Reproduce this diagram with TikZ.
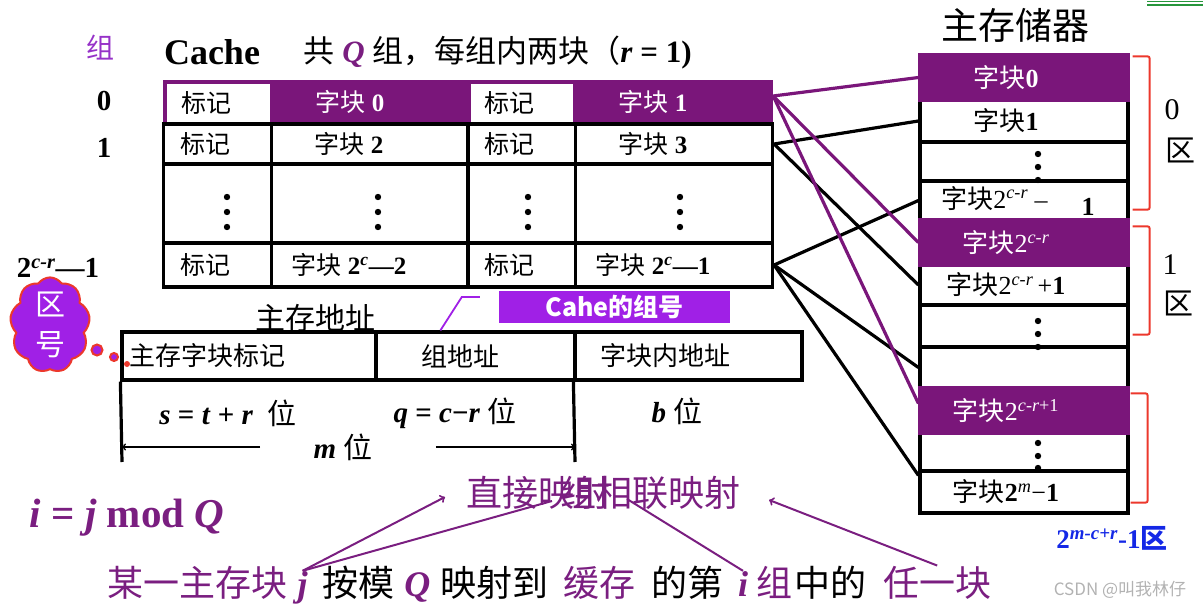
\documentclass[tikz,border=0pt]{standalone}
\usepackage{fontspec}
\setmainfont{Liberation Serif}
\newfontfamily\cjk{Noto Sans CJK SC}
\newcommand{\zh}[1]{{\cjk #1}}
\newcommand{\fs}[1]{\fontsize{#1}{#1}\selectfont}
\usetikzlibrary{positioning,shapes.symbols}
\definecolor{bandpurple}{RGB}{122,22,122}
\definecolor{txtpurple}{RGB}{122,30,128}
\definecolor{brightpurple}{RGB}{160,32,230}
\definecolor{zpurple}{RGB}{150,50,200}
\definecolor{brkred}{RGB}{236,56,44}
\definecolor{zoneblue}{RGB}{20,40,230}
\definecolor{topgreen}{RGB}{40,150,60}

\begin{document}
\begin{tikzpicture}[x=1pt,y=-1pt,
    cell/.style={draw,line width=3.2pt,inner sep=0pt,font=\fs{25}},
    tagc/.style={cell,minimum width=108pt,execute at end node=\hspace*{24pt}},
    blkc/.style={cell,minimum width=197pt,execute at end node=\hspace*{42pt}},
    tagw/.style={fill=white,inner sep=0pt,font=\fs{25},minimum height=38pt,execute at end node=\hspace*{24pt}},
    blk/.style={cell,minimum width=208pt,font=\fs{26},execute at end node=\hspace*{36pt}},
    blkp/.style={blk,fill=bandpurple,draw=bandpurple,text=white},
    link/.style={line width=3.2pt},
    plink/.style={link,draw=bandpurple},
    arr/.style={line width=2pt,draw=txtpurple,->},
    brk/.style={draw=brkred,line width=2pt,rounded corners=2pt}]
    \useasboundingbox (0,0) rectangle (1203,610);
    % title and group numbers
    \node[font=\bfseries\fs{36}] (cache) at (212,52) {Cache};
    \node[font=\fs{31},anchor=west] (ttl) at (300,53) {\zh{共} \textcolor{txtpurple}{\textbf{\textit{Q}}} \zh{组，每组内两块（}\textbf{\textit{r} = 1)}};
    \node[font=\cjk\fs{28},text=zpurple] (gz) at (100,48) {组};
    \node[font=\bfseries\fs{29}] (g0) at (104,101) {0};
    \node[font=\bfseries\fs{29}] (g1) at (104,148) {1};
    \node[font=\bfseries\fs{29}] (gn) at (58,268) {2\textsuperscript{\textit{c-r}}—1};
    % cache table
    \node[fill=bandpurple,minimum width=610pt,minimum height=44pt,inner sep=0pt] (c0) at (468,102) {};
    \node[tagw,minimum width=103pt] (t0a) at (218.5,103) {\zh{标记}};
    \node[text=white,font=\fs{25}] (b0a) at (350,102) {\zh{字块} \textbf{0}};
    \node[tagw,minimum width=102pt] (t0b) at (521.5,103) {\zh{标记}};
    \node[text=white,font=\fs{25}] (b0b) at (653,102) {\zh{字块} \textbf{1}};
    \node[tagc,minimum height=40pt] (t1a) at (217.5,144) {\zh{标记}};
    \node[blkc,minimum height=40pt] (b1a) at (370,144) {\zh{字块} \textbf{2}};
    \node[tagc,minimum height=40pt] (t1b) at (521.5,144) {\zh{标记}};
    \node[blkc,minimum height=40pt] (b1b) at (674,144) {\zh{字块} \textbf{3}};
    \node[tagc,minimum height=79pt] (t2a) at (217.5,203.5) {};
    \node[blkc,minimum height=79pt] (b2a) at (370,203.5) {};
    \node[tagc,minimum height=79pt] (t2b) at (521.5,203.5) {};
    \node[blkc,minimum height=79pt] (b2b) at (674,203.5) {};
    \node[tagc,minimum height=44pt] (t3a) at (217.5,265) {\zh{标记}};
    \node[blkc,minimum height=44pt] (b3a) at (370,265) {\zh{字块} \textbf{2\textsuperscript{\textit{c}}—2}};
    \node[tagc,minimum height=44pt] (t3b) at (521.5,265) {\zh{标记}};
    \node[blkc,minimum height=44pt] (b3b) at (674,265) {\zh{字块} \textbf{2\textsuperscript{\textit{c}}—1}};
    \foreach \x in {227,378,528,680} \foreach \y in {197,212,227} \fill (\x,\y) circle (3.2pt);
    % main memory
    \node[font=\cjk\fs{37}] (mm) at (1015,25) {主存储器};
    \node[blk,minimum height=42pt] (m1) at (1024,121) {\zh{字块}\textbf{1}};
    \node[blk,minimum height=39pt] (m2) at (1024,161.5) {};
    \node[blk,minimum height=39pt] (m3) at (1024,200.5) {\zh{字块}2\textsuperscript{\textit{c-r}} –\hspace{34pt}\raisebox{-7pt}{\textbf{1}}\hspace*{-24pt}};
    \node[blk,minimum height=40pt] (m5) at (1024,285) {\zh{字块}2\textsuperscript{\textit{c-r}}\,+\textbf{1}};
    \node[blk,minimum height=42pt] (m6) at (1024,326) {};
    \node[blk,minimum height=41pt] (m7) at (1024,367.5) {};
    \node[blk,minimum height=38pt] (m9) at (1024,452) {};
    \node[blk,minimum height=42pt] (m10) at (1024,492) {\zh{字块}\textbf{2}\textsuperscript{\textit{m}}−\textbf{1}};
    \node[blkp,minimum height=45pt] (m0) at (1024,77.5) {\zh{字块}\textbf{0}};
    \node[blkp,minimum height=45pt] (m4) at (1024,242.5) {\zh{字块}2\textsuperscript{\textit{c-r}}};
    \node[blkp,minimum height=45pt] (m8) at (1024,410.5) {\zh{字块}2\textsuperscript{\textit{c-r}+1}};
    \foreach \y in {154,167,180,321,334,347,443,456,468} \fill (1038,\y) circle (3.2pt);
    % zones
    \draw[brk] ([xshift=3pt,yshift=-3pt]m0.north east) -- ++(17,0) |- ([xshift=3pt,yshift=12pt]m3.south east);
    \draw[brk] ([xshift=3pt,yshift=-8pt]m4.north east) -- ++(17,0) |- ([xshift=3pt,yshift=14pt]m6.south east);
    \draw[brk] ([xshift=1pt,yshift=-7pt]m8.north east) -- ++(17,0) |- ([xshift=1pt,yshift=12pt]m10.south east);
    \node[font=\fs{30}] (z0n) at (1172,110) {0};
    \node[font=\cjk\fs{30}] (z0q) at (1180,150) {区};
    \node[font=\fs{30}] (z1n) at (1170,265) {1};
    \node[font=\cjk\fs{30}] (z1q) at (1178,303) {区};
    \node[font=\bfseries\fs{27},text=zoneblue] (zl) at (1112,538) {2\textsuperscript{\textit{m-c+r}}-1\zh{区}};
    % mapping lines
    \draw[link] (b1b.east) -- (m1.west);
    \draw[link] (b1b.east) -- (m5.west);
    \draw[link] (b3b.east) -- (m3.west);
    \draw[link] (b3b.east) -- (m7.west);
    \draw[link] (b3b.east) -- ([yshift=-6pt]m10.north west);
    \draw[plink] ([yshift=6pt]c0.east) -- (m0.west);
    \draw[plink] ([yshift=6pt]c0.east) -- (m4.west);
    \draw[plink] ([yshift=6pt]c0.east) -- ([yshift=7pt]m8.west);
    % main memory address
    \node[font=\cjk\fs{30}] (addr) at (315,318) {主存地址};
    \node[cell,minimum width=254pt,minimum height=48pt,font=\cjk\fs{26},text width=240pt,align=left] (a1) at (249,356) {主存字块标记};
    \node[cell,minimum width=199pt,minimum height=48pt,font=\cjk\fs{26},execute at end node=\hspace*{30pt}] (a2) at (475.5,356) {组地址};
    \node[cell,minimum width=227pt,minimum height=48pt,font=\cjk\fs{26},execute at end node=\hspace*{46pt}] (a3) at (688.5,356) {字块内地址};
    \node[fill=brightpurple,minimum width=231pt,minimum height=32pt,inner sep=0pt,text=white,font=\cjk\bfseries\fs{25}] (cg) at (614.5,307) {Cahe的组号};
    \draw[draw=brightpurple,line width=1.8pt] ([xshift=-19pt,yshift=10pt]cg.west) -- ++(-18,0) -- ([xshift=66pt]a2.north west);
    \coordinate (vl) at (122,462);
    \coordinate (vr) at (575,462);
    \draw[line width=3.2pt] (a1.south west) -- (vl);
    \draw[line width=3.2pt] (a3.south west) -- (vr);
    \node[font=\fs{29}] (sbits) at (228,413) {\textbf{\textit{s} = \textit{t} + \textit{r}}\ \ \zh{位}};
    \node[font=\fs{29}] (qbits) at (455,413) {\textbf{\textit{q} = \textit{c}−\textit{r}} \zh{位}};
    \node[font=\fs{29}] (bbits) at (677,411) {\textbf{\textit{b}} \zh{位}};
    \node[font=\fs{29}] (mbits) at (343,447) {\textbf{\textit{m}} \zh{位}};
    \draw[line width=1.5pt,->] ([xshift=-50pt]mbits.west) -- (vl |- mbits.west);
    \draw[line width=1.5pt,->] ([xshift=60pt]mbits.east) -- (vr |- mbits.east);
    % zone number cloud
    \node[cloud,cloud puffs=9,cloud puff arc=110,cloud ignores aspect,fill=brightpurple,draw=brkred,line width=2pt,minimum width=80pt,minimum height=94pt,inner sep=0pt,text=white,font=\cjk\fontsize{30}{40}\selectfont,align=center] (zone) at (50,325) {区\\号};
    \draw[fill=brightpurple,draw=brkred,line width=2pt] (97,350) circle (5.5pt);
    \draw[fill=brightpurple,draw=brkred,line width=2pt] (114,357) circle (4pt);
    \fill[brkred] (127,364) circle (3pt);
    % mapping rule
    \node[font=\bfseries\fs{41},text=txtpurple] (modq) at (127,518) {\textit{i} = \textit{j} mod \textit{Q}};
    \node[font=\cjk\fs{36},text=txtpurple,anchor=west] (zj) at (463,493) {直接映射};
    \node[font=\cjk\fs{36},text=txtpurple,anchor=west] (zx) at (557,493) {组相联映射};
    \node[font=\cjk\fs{36},text=txtpurple,inner sep=0pt,anchor=base west] (s1) at (107,596) {某一主存块};
    \node[font=\bfseries\itshape\fs{36},text=txtpurple,inner sep=0pt,anchor=base west] (sj) at ([xshift=10pt]s1.base east) {j};
    \node[font=\cjk\fs{36},inner sep=0pt,anchor=base west] (s2) at ([xshift=14pt]sj.base east) {按模};
    \node[font=\bfseries\itshape\fs{36},text=txtpurple,inner sep=0pt,anchor=base west] (sq) at ([xshift=10pt]s2.base east) {Q};
    \node[font=\cjk\fs{36},inner sep=0pt,anchor=base west] (s3) at ([xshift=10pt]sq.base east) {映射到};
    \node[font=\cjk\fs{36},text=txtpurple,inner sep=0pt,anchor=base west] (s4) at ([xshift=14pt]s3.base east) {缓存};
    \node[font=\cjk\fs{36},inner sep=0pt,anchor=base west] (s5) at ([xshift=16pt]s4.base east) {的第};
    \node[font=\bfseries\itshape\fs{36},text=txtpurple,inner sep=0pt,anchor=base west] (si) at ([xshift=14pt]s5.base east) {i};
    \node[font=\cjk\fs{36},text=txtpurple,inner sep=0pt,anchor=base west] (s6) at ([xshift=8pt]si.base east) {组};
    \node[font=\cjk\fs{36},inner sep=0pt,anchor=base west] (s7) at ([xshift=2pt]s6.base east) {中的};
    \node[font=\cjk\fs{36},text=txtpurple,inner sep=0pt,anchor=base west] (s8) at ([xshift=16pt]s7.base east) {任一块};
    \draw[arr] (sj.north) -- ([xshift=-18pt,yshift=-4pt]zj.west);
    \draw[line width=2pt,draw=txtpurple] (sj.north) -- ([xshift=-5pt,yshift=-8pt]zx.west);
    \draw[line width=2pt,draw=txtpurple] (si.north) -- ([xshift=70pt,yshift=-6pt]zx.west);
    \draw[arr] (s8.north) -- ([xshift=25pt,yshift=-7pt]zx.east);
    % corner marks
    \draw[topgreen,line width=1.5pt] (1147,1.5) -- (1203,1.5);
    \draw[topgreen,line width=1.5pt] (1147,5) -- (1203,5);
    \node[text=gray!60,font=\cjk\fs{17}] (csdn) at (1120,590) {CSDN @叫我林仔};
\end{tikzpicture}
\end{document}
